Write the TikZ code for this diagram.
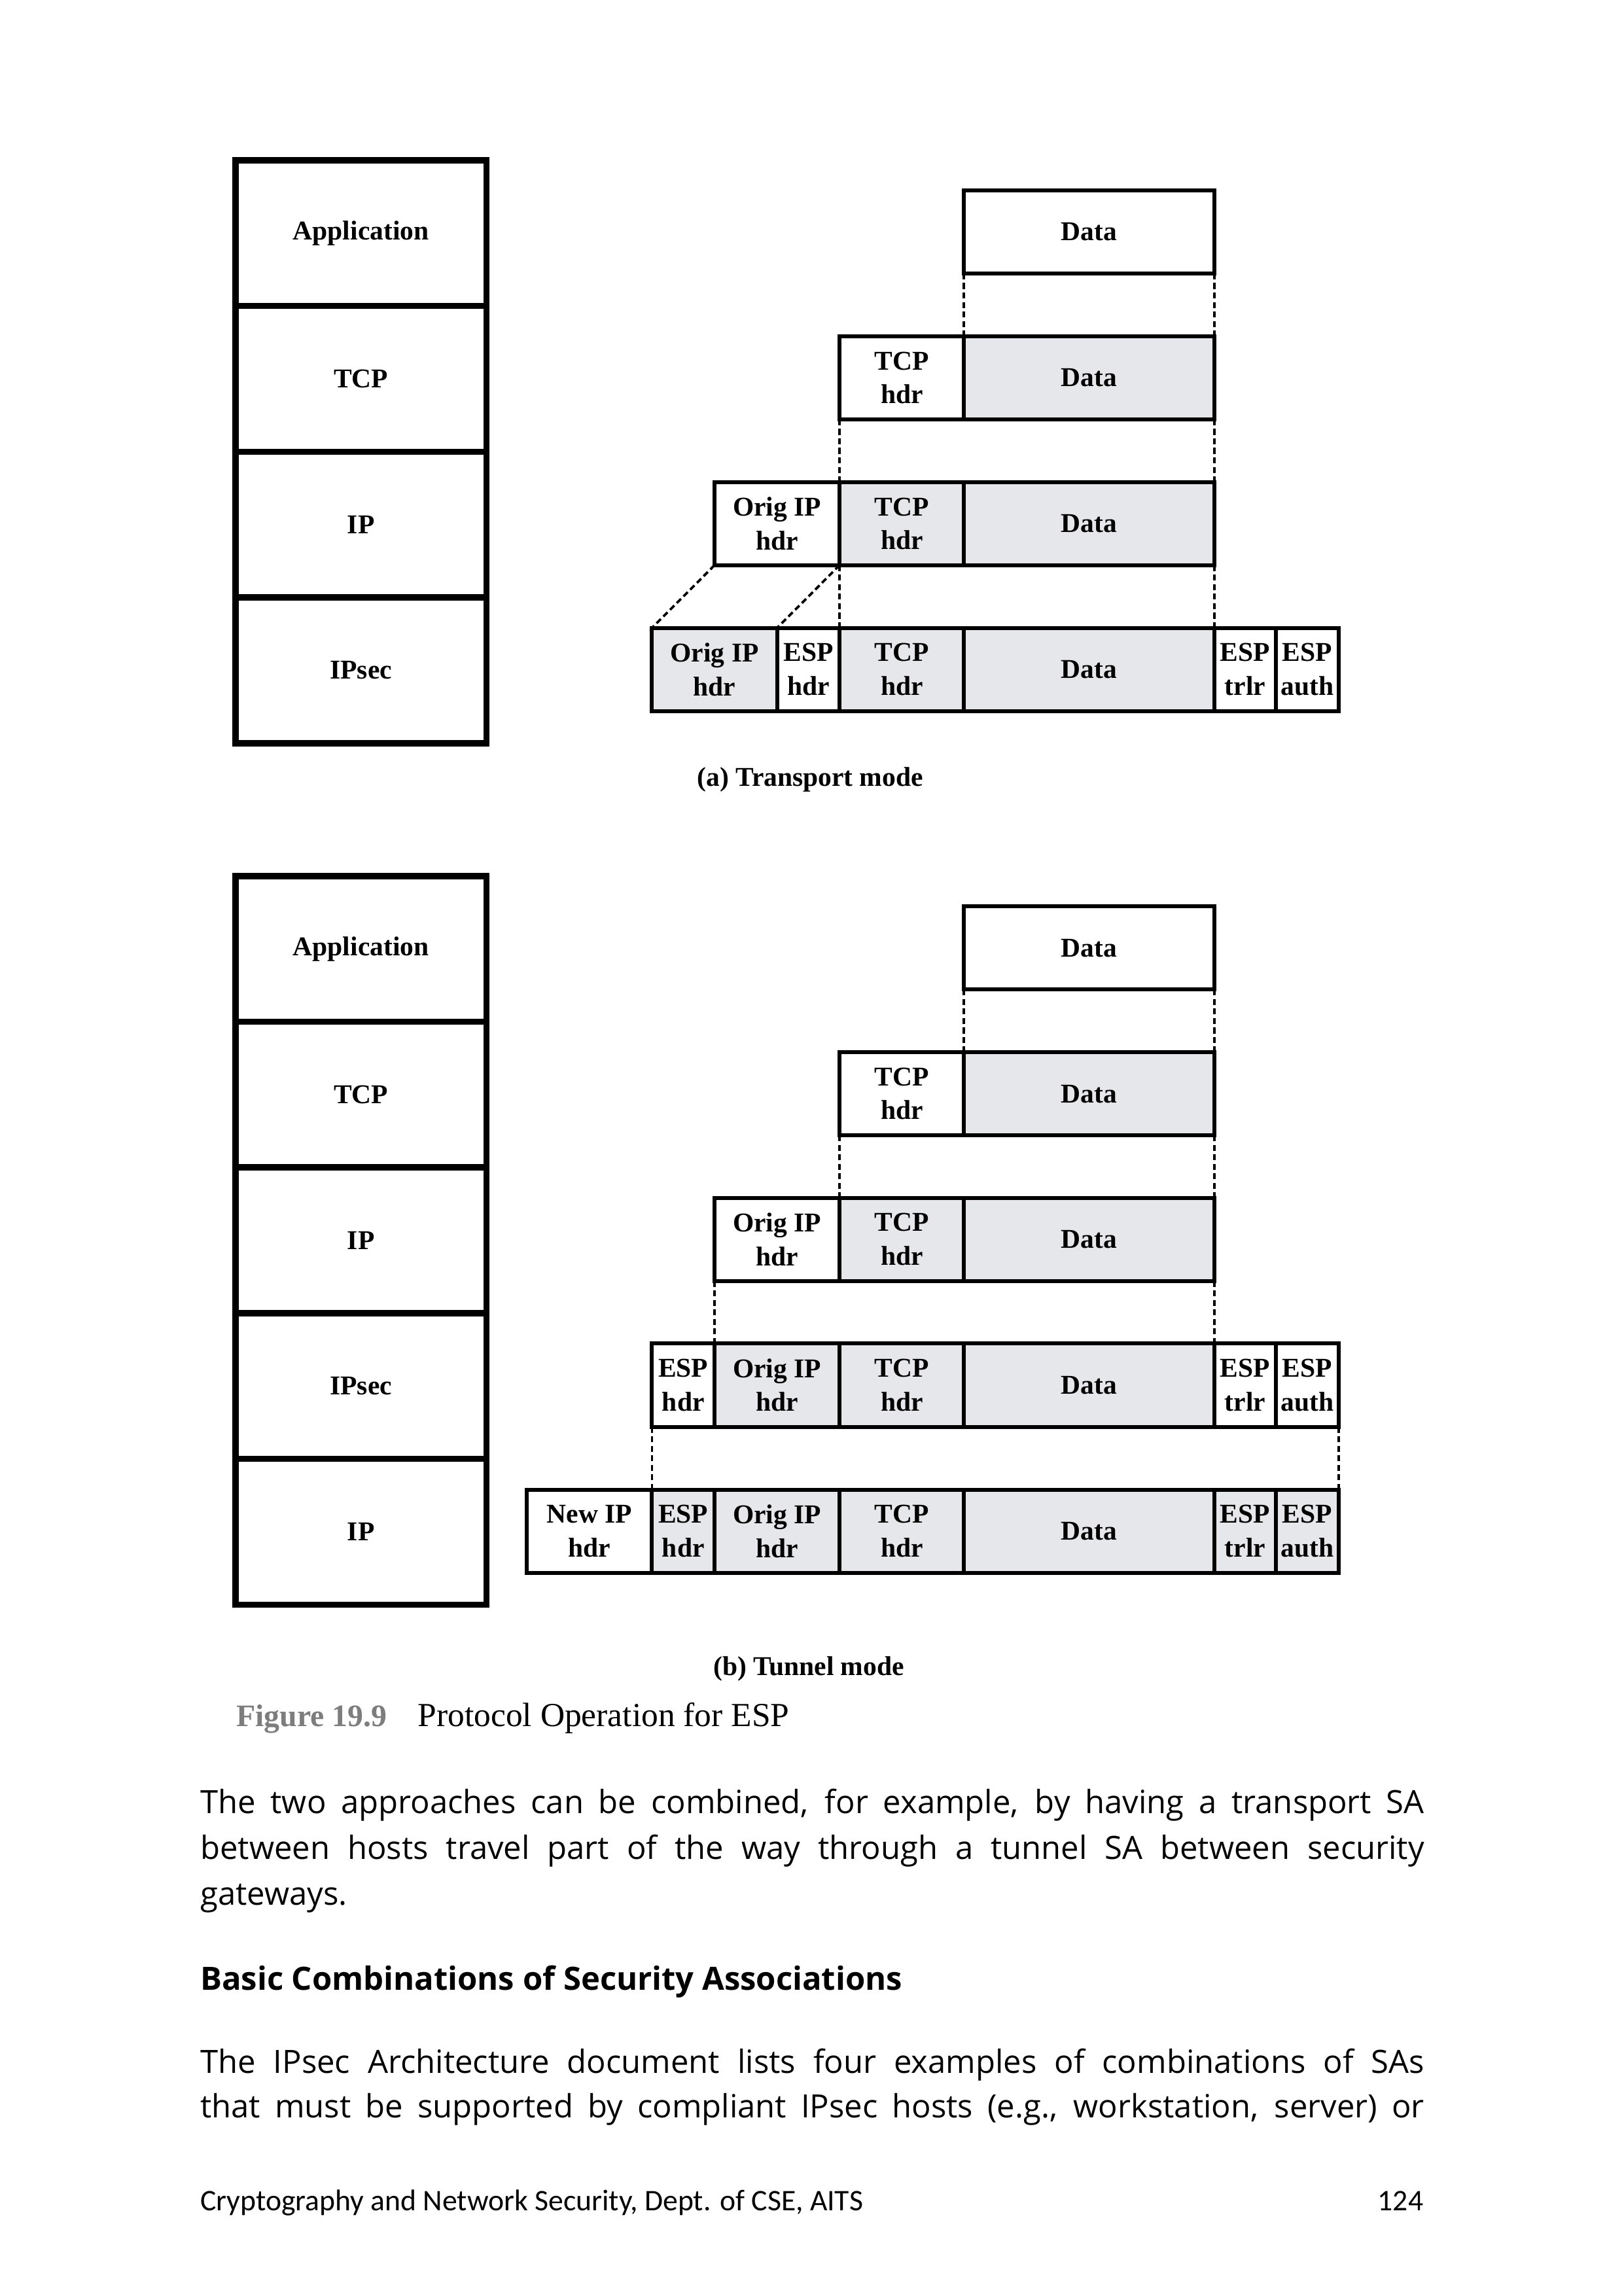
\documentclass[tikz,border=0pt]{standalone}
\usepackage{fontspec}
\setmainfont{Liberation Serif}
\newfontfamily\bodyfont[Ligatures=NoCommon]{Open Sans}
\newfontfamily\footfont{Carlito}
\definecolor{cellgray}{RGB}{230,231,234}
\definecolor{figgray}{RGB}{125,125,125}
\newlength\U
\setlength\U{0.19044mm}
\newcommand\pcell[6]{\node[pkt,fill=#5,minimum width=#4*0.19044mm] (#1) at (#2,#3) {#6};}
\newcommand\scell[3]{\node[stk] (#1) at (160,#2) {#3};}
\newcommand\jline[1]{\makebox[831.6\U][s]{#1}}
\begin{document}
\begin{tikzpicture}[x=0.19044mm,y=-0.19044mm,
  pkt/.style={draw,line width=1.45pt,inner sep=0pt,outer sep=0pt,anchor=north west,
    align=center,minimum height=56.5*0.19044mm,font=\fontsize{10}{12.4}\selectfont\bfseries},
  stk/.style={draw,line width=2.3pt,inner sep=0pt,outer sep=0pt,anchor=north west,
    minimum width=170.5*0.19044mm,minimum height=99*0.19044mm,font=\fontsize{10}{12}\selectfont\bfseries},
  dl/.style={line width=0.9pt,dash pattern=on 2.2pt off 1.3pt},
  captxt/.style={inner sep=0pt,anchor=base,font=\fontsize{10}{12}\selectfont\bfseries},
  body/.style={inner sep=0pt,anchor=base west,font=\bodyfont\fontsize{11.8}{14}\selectfont},
  foot/.style={inner sep=0pt,font=\footfont\fontsize{11}{13}\selectfont}]
\fill[white] (0,0) rectangle (1103,1560);
\useasboundingbox (0,0) rectangle (1103,1560);
% ---------- (a) Transport mode ----------
\scell{aS1}{108.9}{Application}
\scell{aS2}{207.9}{TCP}
\scell{aS3}{306.9}{IP}
\scell{aS4}{405.9}{IPsec}
\pcell{aD1}{655}{129.3}{170}{white}{Data}
\pcell{aT2}{570.5}{228.4}{84.5}{white}{TCP\\hdr}
\pcell{aD2}{655}{228.4}{170}{cellgray}{Data}
\pcell{aO3}{485.5}{327.5}{85}{white}{Orig IP\\hdr}
\pcell{aT3}{570.5}{327.5}{84.5}{cellgray}{TCP\\hdr}
\pcell{aD3}{655}{327.5}{170}{cellgray}{Data}
\pcell{aO4}{443}{426.6}{85}{cellgray}{Orig IP\\hdr}
\pcell{aE4}{528}{426.6}{42.5}{white}{ESP\\hdr}
\pcell{aT4}{570.5}{426.6}{84.5}{cellgray}{TCP\\hdr}
\pcell{aD4}{655}{426.6}{170}{cellgray}{Data}
\pcell{aR4}{825}{426.6}{42}{white}{ESP\\trlr}
\pcell{aA4}{867}{426.6}{42.5}{white}{ESP\\auth}
\draw[dl] (aD1.south west) -- (aD2.north west);
\draw[dl] (aD1.south east) -- (aD2.north east);
\draw[dl] (aT2.south west) -- (aT3.north west);
\draw[dl] (aD2.south east) -- (aD3.north east);
\draw[dl] (aO3.south west) -- (aO4.north west);
\draw[dl] (aO3.south east) -- (aE4.north west);
\draw[dl] (aT3.south west) -- (aT4.north west);
\draw[dl] (aD3.south east) -- (aD4.north east);
\node[captxt] (capa) at (550.5,534.2) {(a) Transport mode};
% ---------- (b) Tunnel mode ----------
\scell{bS1}{595.2}{Application}
\scell{bS2}{694.2}{TCP}
\scell{bS3}{793.2}{IP}
\scell{bS4}{892.2}{IPsec}
\scell{bS5}{991.2}{IP}
\pcell{bD1}{655}{615.8}{170}{white}{Data}
\pcell{bT2}{570.5}{714.9}{84.5}{white}{TCP\\hdr}
\pcell{bD2}{655}{714.9}{170}{cellgray}{Data}
\pcell{bO3}{485.5}{813.8}{85}{white}{Orig IP\\hdr}
\pcell{bT3}{570.5}{813.8}{84.5}{cellgray}{TCP\\hdr}
\pcell{bD3}{655}{813.8}{170}{cellgray}{Data}
\pcell{bE4}{443}{912.9}{42.5}{white}{ESP\\hdr}
\pcell{bO4}{485.5}{912.9}{85}{cellgray}{Orig IP\\hdr}
\pcell{bT4}{570.5}{912.9}{84.5}{cellgray}{TCP\\hdr}
\pcell{bD4}{655}{912.9}{170}{cellgray}{Data}
\pcell{bR4}{825}{912.9}{42}{white}{ESP\\trlr}
\pcell{bA4}{867}{912.9}{42.5}{white}{ESP\\auth}
\pcell{bN5}{358}{1012.1}{85}{white}{New IP\\hdr}
\pcell{bE5}{443}{1012.1}{42.5}{cellgray}{ESP\\hdr}
\pcell{bO5}{485.5}{1012.1}{85}{cellgray}{Orig IP\\hdr}
\pcell{bT5}{570.5}{1012.1}{84.5}{cellgray}{TCP\\hdr}
\pcell{bD5}{655}{1012.1}{170}{cellgray}{Data}
\pcell{bR5}{825}{1012.1}{42}{cellgray}{ESP\\trlr}
\pcell{bA5}{867}{1012.1}{42.5}{cellgray}{ESP\\auth}
\draw[dl] (bD1.south west) -- (bD2.north west);
\draw[dl] (bD1.south east) -- (bD2.north east);
\draw[dl] (bT2.south west) -- (bT3.north west);
\draw[dl] (bD2.south east) -- (bD3.north east);
\draw[dl] (bO3.south west) -- (bO4.north west);
\draw[dl] (bD3.south east) -- (bD4.north east);
\draw[dl] (bE4.south west) -- (bE5.north west);
\draw[dl] (bA4.south east) -- (bA5.north east);
\node[captxt] (capb) at (549.5,1138.1) {(b) Tunnel mode};
\node[inner sep=0pt,anchor=base west,text=figgray,font=\fontsize{11.5}{14}\selectfont\bfseries] (fignum) at (160.3,1173) {Figure 19.9};
\node[inner sep=0pt,anchor=base west,font=\fontsize{12.4}{14}\selectfont] (figtitle) at (283.6,1173) {Protocol Operation for ESP};
% ---------- body text ----------
\node[body] (p1) at (135.8,1232.2) {\jline{The two approaches can be combined, for example, by having a transport SA}};
\node[body] (p2) at (135.8,1263.4) {\jline{between hosts travel part of the way through a tunnel SA between security}};
\node[body] (p3) at (135.8,1294.5) {gateways.};
\node[body] (h1) at (135.8,1352) {\bfseries Basic Combinations of Security Associations};
\node[body] (p4) at (135.8,1408.6) {\jline{The IPsec Architecture document lists four examples of combinations of SAs}};
\node[body] (p5) at (135.8,1439) {\jline{that must be supported by compliant IPsec hosts (e.g., workstation, server) or}};
\node[foot,anchor=base west] (f1) at (135.8,1501.8) {Cryptography and Network Security, Dept. of CSE, AITS};
\node[foot,anchor=base east] (f2) at (967.4,1501.8) {124};
\end{tikzpicture}
\end{document}
